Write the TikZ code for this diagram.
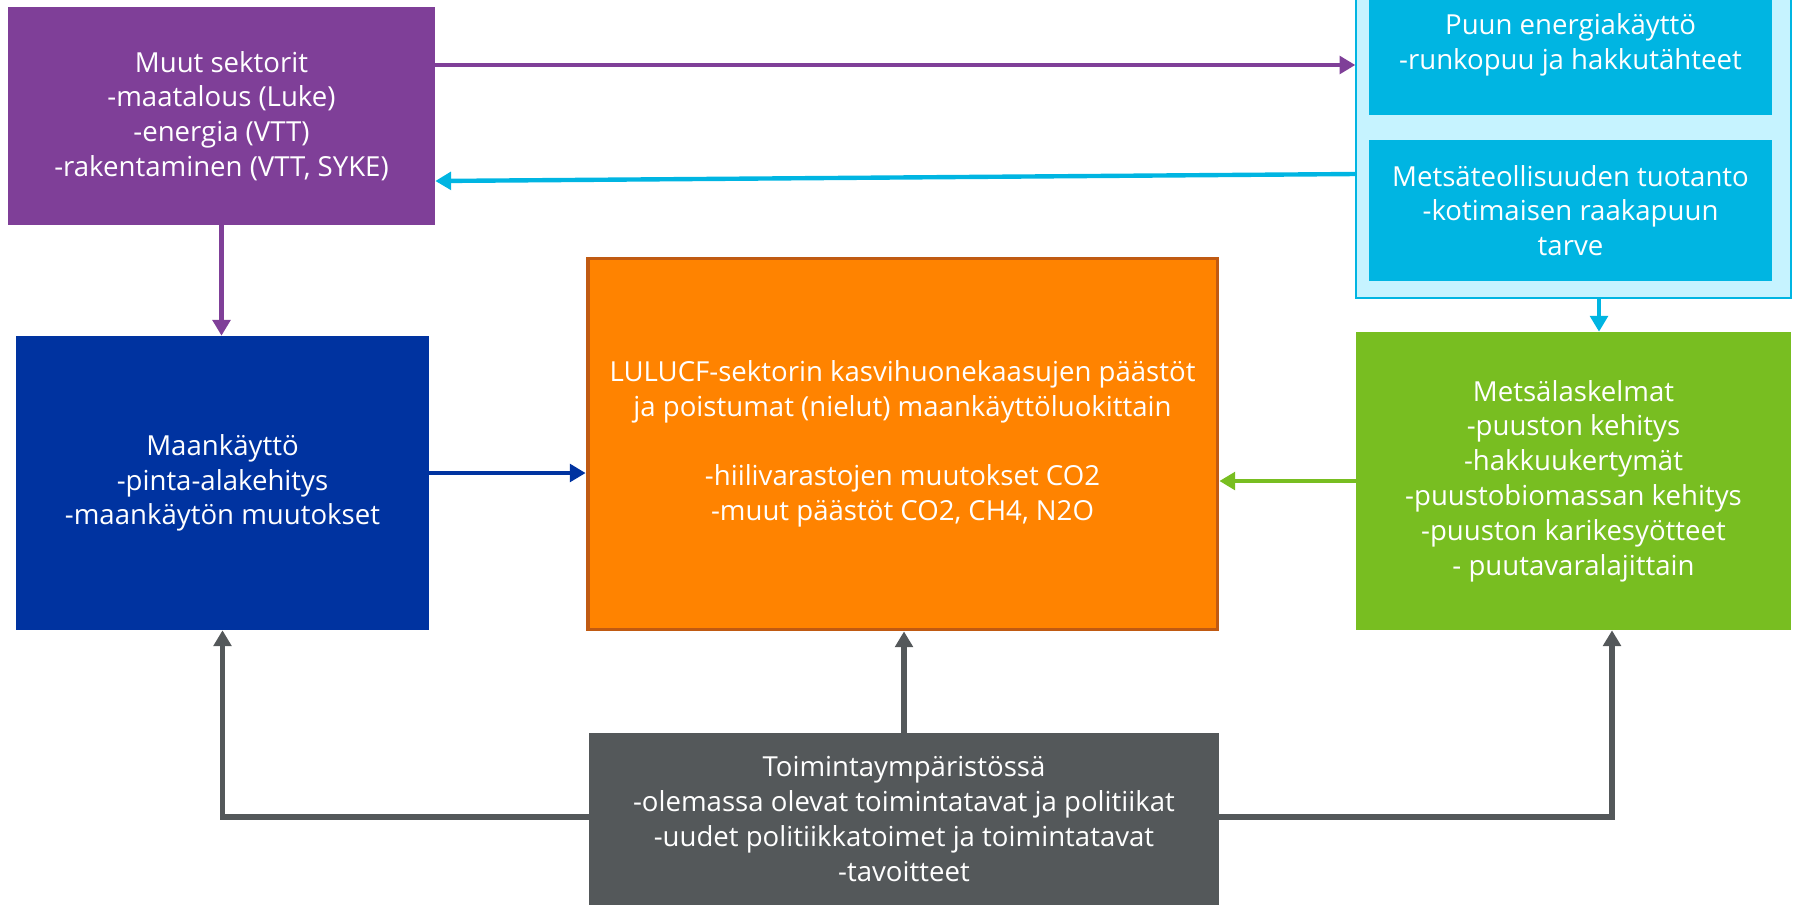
\documentclass[tikz,border=0pt]{standalone}
\usepackage{fontspec}
\setmainfont{Open Sans}
\usetikzlibrary{arrows.meta}

\definecolor{muutcol}{HTML}{7F3F98}
\definecolor{maacol}{HTML}{0033A0}
\definecolor{lulcol}{HTML}{FF8300}
\definecolor{lulline}{HTML}{C05A12}
\definecolor{puucol}{HTML}{00B5E2}
\definecolor{puuback}{HTML}{C6F3FF}
\definecolor{metscol}{HTML}{78BE21}
\definecolor{toimcol}{HTML}{54585A}

\tikzset{
    box/.style={rectangle,inner sep=0pt,align=center,text=white,
        font=\fontsize{15.7}{19.8}\selectfont},
    link/.style={line width=2.5pt,-{Triangle[width=10pt,length=9pt]}},
}

\begin{document}
\begin{tikzpicture}[x=0.02cm,y=-0.02cm]
        \useasboundingbox (0,0) rectangle (1797,904);
        % boxes
        \node[box,fill=muutcol,minimum width=8.54cm,minimum height=4.36cm] (muut) at (221.5,116)
        {Muut sektorit\\-maatalous (Luke)\\-energia (VTT)\\-rakentaminen (VTT, SYKE)};
        \node[box,fill=maacol,minimum width=8.26cm,minimum height=5.88cm] (maa) at (222.5,483)
        {Maankäyttö\\-pinta-alakehitys\\-maankäytön muutokset};
        \node[box,fill=lulcol,draw=lulline,line width=2.2pt,minimum width=12.6cm,minimum height=7.42cm] (lulucf) at (902.5,444)
        {LULUCF-sektorin kasvihuonekaasujen päästöt\\ja poistumat (nielut) maankäyttöluokittain\\[19.8pt]-hiilivarastojen muutokset CO2\\-muut päästöt CO2, CH4, N2O};
        \node[box,fill=puuback,draw=puucol,line width=0.8pt,minimum width=8.7cm,minimum height=6.66cm] (puu) at (1573.5,131.5) {};
        \node[box,fill=puucol,minimum width=8.06cm,minimum height=2.8cm] (energia) at (1570.5,45)
        {Puun energiakäyttö\\-runkopuu ja hakkutähteet};
        \node[box,fill=puucol,minimum width=8.06cm,minimum height=2.82cm] (tuotanto) at (1570.5,210.5)
        {Metsäteollisuuden tuotanto\\-kotimaisen raakapuun\\tarve};
        \node[box,fill=metscol,minimum width=8.7cm,minimum height=5.96cm] (mets) at (1573.5,481)
        {Metsälaskelmat\\-puuston kehitys\\-hakkuukertymät\\-puustobiomassan kehitys\\-puuston karikesyötteet\\- puutavaralajittain};
        \node[box,fill=toimcol,minimum width=12.6cm,minimum height=3.44cm] (toim) at (904,819)
        {Toimintaympäristössä\\-olemassa olevat toimintatavat ja politiikat\\-uudet politiikkatoimet ja toimintatavat\\-tavoitteet};
        % helper coordinates
        \coordinate (ytop) at (0,65);
        \coordinate (ybackr) at (0,174);
        \coordinate (ybackl) at (0,181);
        \coordinate (ymaa) at (0,473);
        \coordinate (ymets) at (0,481);
        \coordinate (ytoim) at (0,817);
        \coordinate (xpuu) at (1599,0);
        \coordinate (xmets) at (1612,0);
        % connectors
        \draw[link,muutcol] (muut.east |- ytop) -- (puu.west |- ytop);
        \draw[link,puucol] (puu.west |- ybackr) -- (muut.east |- ybackl);
        \draw[link,muutcol] (muut.south) -- (muut.south |- maa.north);
        \draw[link,puucol] (puu.south -| xpuu) -- (mets.north -| xpuu);
        \draw[link,maacol] (maa.east |- ymaa) -- (lulucf.west |- ymaa);
        \draw[link,metscol] (mets.west |- ymets) -- (lulucf.east |- ymets);
        \draw[link,toimcol,line width=3pt] (toim.north) -- (toim.north |- lulucf.south);
        \draw[link,toimcol,line width=3pt] (toim.west |- ytoim) -| (maa.south);
        \draw[link,toimcol,line width=3pt] (toim.east |- ytoim) -| (mets.south -| xmets);
\end{tikzpicture}
\end{document}
